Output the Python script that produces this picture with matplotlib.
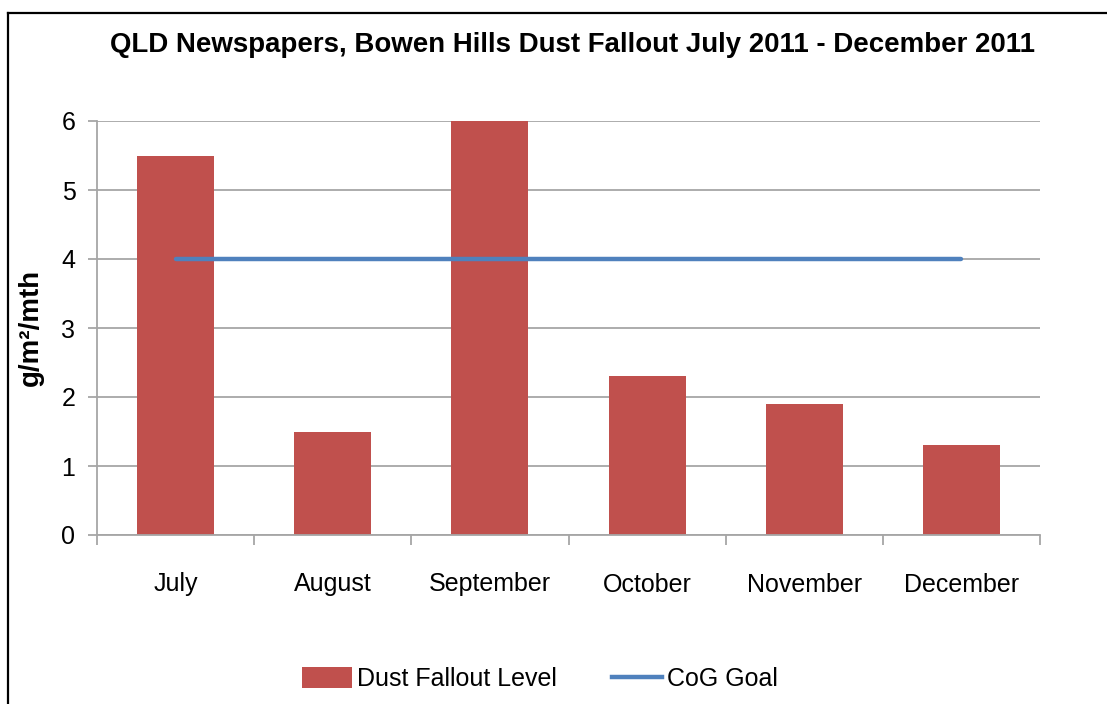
import matplotlib.pyplot as plt
from matplotlib.lines import Line2D
from matplotlib.patches import Patch

months = ["July", "August", "September", "October", "November", "December"]
dust = [5.5, 1.5, 6.0, 2.3, 1.9, 1.3]
goal = [4, 4, 4, 4, 4, 4]
yticks = [0, 1, 2, 3, 4, 5, 6]

bar_col = "#C0504D"
line_col = "#4F81BD"
grid_col = "#A6A6A6"

plt.rcParams['font.family'] = ['Liberation Sans', 'DejaVu Sans']

fig = plt.figure(figsize=(11.07, 7.04), dpi=100)
ax = fig.add_axes([97/1107, 1 - 535/704, (1040 - 97)/1107, (535 - 121)/704])

x = list(range(len(months)))
ax.bar(x, dust, width=0.49, color=bar_col, zorder=2)
ax.plot(x, goal, color=line_col, lw=3.2, zorder=3, solid_capstyle='round')

ax.set_xlim(-0.5, len(months) - 0.5)
ax.set_ylim(0, 6)
ax.set_yticks(yticks)
ax.yaxis.grid(True, color=grid_col, lw=1.3, zorder=0)
ax.set_axisbelow(True)

ax.set_xticks(x)
ax.set_xticklabels(months, fontsize=18)
ax.set_xticks([i - 0.5 for i in range(len(months) + 1)], minor=True)
ax.tick_params(axis='x', which='major', length=0, pad=27)
ax.tick_params(axis='x', which='minor', length=7.5, width=1.3, color=grid_col, direction='out')
ax.tick_params(axis='y', length=6.5, width=1.3, color=grid_col, pad=9, labelsize=18)

for s in ['top', 'right']:
    ax.spines[s].set_visible(False)
for s in ['left', 'bottom']:
    ax.spines[s].set_color(grid_col)
    ax.spines[s].set_linewidth(1.3)

fig.text(573/1107, 1 - 45/704, "QLD Newspapers, Bowen Hills Dust Fallout July 2011 - December 2011",
         ha='center', va='center', fontsize=19.9, fontweight='bold')
fig.text(31/1107, 1 - 327/704, "g/m²/mth", rotation=90, ha='center', va='center',
         fontsize=20, fontweight='bold')

handles = [Patch(facecolor=bar_col, label="Dust Fallout Level"),
           Line2D([0], [0], color=line_col, lw=3.2, label="CoG Goal")]
fig.legend(handles=handles, loc='center', bbox_to_anchor=(540/1107, 1 - 679/704), ncol=2,
           frameon=False, fontsize=18, handlelength=2.0, handleheight=0.9,
           handletextpad=0.2, columnspacing=2.2)

# frame lines around the figure (top and left)
fig.add_artist(Line2D([8/1107, 1], [1 - 13/704, 1 - 13/704], color='black', lw=1.6))
fig.add_artist(Line2D([8/1107, 8/1107], [0, 1 - 13/704], color='black', lw=1.6))

fig.savefig("out.png", dpi=100)
